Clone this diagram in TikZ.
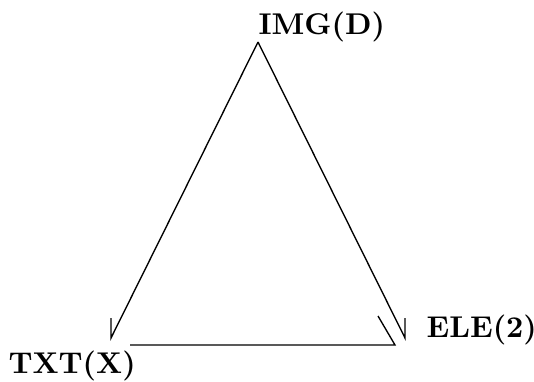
\documentclass[tikz,border=0pt]{standalone}
\begin{document}
\begin{tikzpicture}[x=0.333pt,y=-0.333pt,
  lbl/.style={anchor=base west,inner sep=0pt,font=\bfseries},
  ln/.style={line width=0.45pt}]
\useasboundingbox (0,0) rectangle (534,381);
\node[lbl] (img) at (258,34) {IMG(D)};
\node[lbl] (txt) at (8,373) {TXT(X)};
\node[lbl] (ele) at (426,337) {ELE(2)};
\coordinate (apex) at (258,42);
\coordinate (l1) at (111,338);
\coordinate (l0) at (111,318);
\coordinate (r1) at (405,338);
\coordinate (r0) at (405,318);
\coordinate (h0) at (130,345);
\coordinate (h1) at (395,345);
\coordinate (s0) at (378,316);
\draw[ln] (apex) -- (l1) -- (l0);
\draw[ln] (apex) -- (r1) -- (r0);
\draw[ln] (h0) -- (h1) -- (s0);
\end{tikzpicture}
\end{document}
